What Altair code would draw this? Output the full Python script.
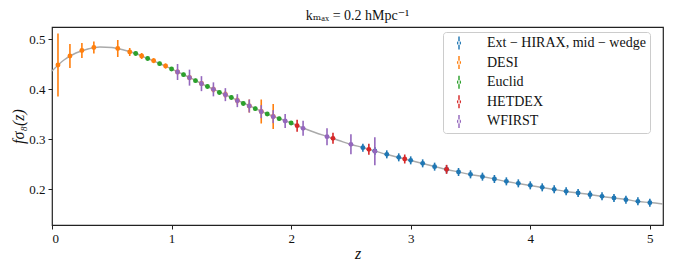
import altair as alt
import pandas as pd

# ---- data ----
curve_z = [0.0, 0.1, 0.2, 0.3, 0.4, 0.5, 0.6, 0.7, 0.8, 0.9, 1.0, 1.1, 1.2, 1.3, 1.4, 1.5,
           1.6, 1.7, 1.8, 1.9, 2.0, 2.1, 2.2, 2.3, 2.4, 2.5, 2.6, 2.7, 2.8, 2.9, 3.0, 3.1,
           3.2, 3.3, 3.4, 3.5, 3.6, 3.7, 3.8, 3.9, 4.0, 4.1, 4.2, 4.3, 4.4, 4.5, 4.6, 4.7,
           4.8, 4.9, 5.0, 5.11]
curve_f = [0.436, 0.458, 0.472, 0.480, 0.484, 0.483, 0.478, 0.471, 0.461, 0.451, 0.440, 0.429,
           0.417, 0.405, 0.394, 0.383, 0.372, 0.361, 0.350, 0.341, 0.332, 0.322, 0.313, 0.305,
           0.297, 0.289, 0.283, 0.276, 0.269, 0.263, 0.257, 0.251, 0.245, 0.239, 0.234, 0.229,
           0.225, 0.220, 0.215, 0.211, 0.207, 0.203, 0.199, 0.195, 0.192, 0.189, 0.185, 0.182,
           0.179, 0.175, 0.173, 0.170]

hirax_z = [2.6, 2.7, 2.8, 2.9, 3.0, 3.1, 3.2, 3.3, 3.4, 3.5, 3.6, 3.7, 3.8, 3.9, 4.0, 4.1,
           4.2, 4.3, 4.4, 4.5, 4.6, 4.7, 4.8, 4.9, 5.0]
hirax_f = [0.2827, 0.276, 0.2693, 0.2633, 0.2573, 0.2513, 0.2447, 0.2393, 0.234, 0.2293,
           0.2247, 0.220, 0.2153, 0.2113, 0.2073, 0.2033, 0.1993, 0.1953, 0.192, 0.1887,
           0.1853, 0.182, 0.1787, 0.1753, 0.1727]
hirax_err = [0.008] * 25

desi_z = [0.05, 0.15, 0.25, 0.35, 0.55, 0.65, 0.75, 0.85, 0.95, 1.05, 1.15, 1.25, 1.35,
          1.45, 1.55, 1.65, 1.75, 1.85]
desi_f = [0.448, 0.466, 0.477, 0.483, 0.481, 0.474, 0.466, 0.4567, 0.446, 0.434, 0.4227,
          0.411, 0.399, 0.389, 0.377, 0.366, 0.355, 0.345]
desi_err = [0.063, 0.024, 0.015, 0.012, 0.017, 0.008, 0.006, 0.005, 0.005, 0.005, 0.005,
            0.005, 0.006, 0.007, 0.008, 0.013, 0.024, 0.025]

euclid_z = [0.7, 0.8, 0.9, 1.0, 1.1, 1.2, 1.3, 1.4, 1.5, 1.6, 1.7, 1.8, 1.9, 2.0]
euclid_f = [0.471, 0.461, 0.4507, 0.440, 0.4287, 0.4167, 0.405, 0.393, 0.383, 0.371,
            0.3607, 0.350, 0.3407, 0.332]
euclid_err = [0.004] * 14

hetdex_z = [2.05, 2.35, 2.65, 2.95, 3.3]
hetdex_f = [0.3267, 0.3013, 0.2793, 0.260, 0.2393]
hetdex_err = [0.012, 0.011, 0.011, 0.009, 0.009]

wfirst_z = [1.05, 1.15, 1.25, 1.35, 1.45, 1.55, 1.65, 1.75, 1.85, 1.95, 2.1, 2.3, 2.5, 2.7]
wfirst_f = [0.434, 0.4227, 0.4107, 0.3993, 0.3887, 0.3767, 0.366, 0.3547, 0.3447, 0.336,
            0.3213, 0.3047, 0.2893, 0.2753]
wfirst_err = [0.016, 0.016, 0.015, 0.014, 0.013, 0.013, 0.013, 0.013, 0.013, 0.014, 0.015,
              0.017, 0.020, 0.028]

names = ["Ext − HIRAX, mid − wedge", "DESI", "Euclid", "HETDEX", "WFIRST"]
colors = ["#1f77b4", "#ff7f0e", "#2ca02c", "#d62728", "#9467bd"]
series = [
    (hirax_z, hirax_f, hirax_err),
    (desi_z, desi_f, desi_err),
    (euclid_z, euclid_f, euclid_err),
    (hetdex_z, hetdex_f, hetdex_err),
    (wfirst_z, wfirst_f, wfirst_err),
]

FONT = "Liberation Serif, Times New Roman, DejaVu Serif, serif"

xscale = alt.Scale(domain=[0, 5.11], nice=False, zero=False)
yscale = alt.Scale(domain=[0.128, 0.524], nice=False, zero=False)
cscale = alt.Scale(domain=names, range=colors)

sym = ("M-0.11,-1L0.11,-1L0.11,1L-0.11,1Z"
       "M-0.32,0A0.32,0.32 0 1,0 0.32,0A0.32,0.32 0 1,0 -0.32,0Z")

legend = alt.Legend(
    title=None, orient="none", legendX=391, legendY=5,
    symbolType=sym, symbolSize=170, symbolStrokeWidth=0, symbolOpacity=1,
    symbolOffset=5,
    labelFont=FONT, labelFontSize=14, labelColor="#111",
    labelOffset=21, rowPadding=5.6, padding=4,
    strokeColor="#cccccc", fillColor="white", cornerRadius=3,
)

curve_df = pd.DataFrame({"z": curve_z, "f": curve_f})
curve = alt.Chart(curve_df).mark_line(color="#aaaaaa", strokeWidth=1.4, interpolate="monotone").encode(
    x=alt.X("z:Q", scale=xscale,
            axis=alt.Axis(title="z", values=[0, 1, 2, 3, 4, 5], format="d")),
    y=alt.Y("f:Q", scale=yscale,
            axis=alt.Axis(title="fσ₈(z)", values=[0.2, 0.3, 0.4, 0.5], format=".1f")),
)

layers = [curve]
for name, col, (zs, fs, es) in zip(names, colors, series):
    df = pd.DataFrame({"z": zs, "f": fs, "err": es})
    df["lo"] = df["f"] - df["err"]
    df["hi"] = df["f"] + df["err"]
    df["survey"] = name
    bars = alt.Chart(df).mark_rule(strokeWidth=1.6, color=col).encode(
        x="z:Q", y="lo:Q", y2="hi:Q",
    )
    pts = alt.Chart(df).mark_circle(size=24, opacity=1).encode(
        x="z:Q", y="f:Q",
        color=alt.Color("survey:N", scale=cscale, legend=legend),
    )
    layers += [bars, pts]

chart = alt.layer(*layers).properties(
    width=611, height=198,
    title=alt.Title("kₘₐₓ = 0.2 hMpc⁻¹", font=FONT, fontSize=14,
                    fontWeight="normal", color="#111", offset=4),
    autosize=alt.AutoSizeParams(type="none"),
    padding={"left": 44, "top": 19, "right": 3, "bottom": 36},
).configure_view(
    stroke="#222222", strokeWidth=1.2
).configure_axis(
    grid=False, domain=False, tickColor="#222", tickSize=4, tickWidth=1,
    labelFont=FONT, labelFontSize=13, labelColor="#111", labelPadding=3,
    titleFont=FONT, titleFontSize=16, titleFontWeight="normal",
    titleFontStyle="italic", titleColor="#111",
).configure_axisX(titlePadding=0).configure_axisY(titlePadding=2)

chart.save("out.html", embed_options={"renderer": "svg", "actions": False})
